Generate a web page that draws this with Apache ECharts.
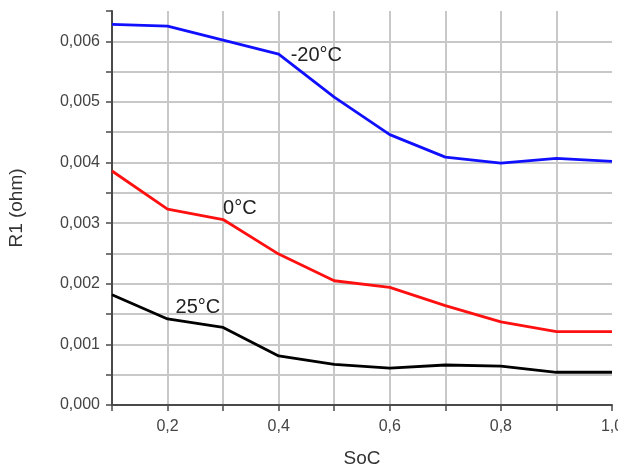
<!DOCTYPE html>
<html>
<head>
<meta charset="utf-8">
<script src="https://cdn.jsdelivr.net/npm/echarts@6/dist/echarts.min.js"></script>
<style>
  html, body { margin: 0; padding: 0; background: #fff; }
  #chart { width: 618px; height: 470px; }
</style>
</head>
<body>
<div id="chart"></div>
<script>
  // SoC (x) and R1 values per temperature
  const soc = [0.1, 0.2, 0.3, 0.4, 0.5, 0.6, 0.7, 0.8, 0.9, 1.0]
  const rMinus20 = [0.00628, 0.00625, 0.00602, 0.00579, 0.00508, 0.00446, 0.00409, 0.00399, 0.00407, 0.00402]
  const rZero = [0.00386, 0.00323, 0.00306, 0.00249, 0.00205, 0.00194, 0.00164, 0.00137, 0.00121, 0.00121]
  const r25 = [0.00182, 0.00142, 0.00128, 0.00081, 0.00067, 0.00061, 0.00066, 0.00064, 0.00054, 0.00054]
  const seriesNames = ['-20°C', '0°C', '25°C']
  const labelIndex = [3, 2, 1]

  const font = 'Liberation Sans, Arial, sans-serif'
  const gridGray = '#c8c8c8'
  const axisGray = '#4a4a4a'

  function pairs(ys) {
    return soc.map((x, i) => [x, ys[i]])
  }

  function makeSeries(idx, ys, color, label) {
    const k = labelIndex[idx]
    return {
      name: seriesNames[idx],
      type: 'line',
      data: pairs(ys),
      showSymbol: false,
      lineStyle: { color: color, width: 2.8 },
      itemStyle: { color: color },
      markPoint: {
        symbol: 'circle',
        symbolSize: 0,
        silent: true,
        data: [{ coord: [soc[k], ys[k]] }],
        label: Object.assign({
          show: true,
          formatter: seriesNames[idx],
          color: '#222',
          fontFamily: font,
          fontSize: 20,
          position: 'right'
        }, label)
      }
    }
  }

  const chart = echarts.init(document.getElementById('chart'))
  chart.setOption({
    animation: false,
    backgroundColor: '#fff',
    grid: { left: 112, right: 6, top: 11, bottom: 65, outerBoundsMode: 'none', containLabel: false },
    xAxis: {
      type: 'value',
      min: 0.1,
      max: 1.0,
      interval: 0.1,
      name: 'SoC',
      nameLocation: 'middle',
      nameGap: 44,
      nameTextStyle: { color: '#333', fontFamily: font, fontSize: 19 },
      axisLine: { show: true, lineStyle: { color: axisGray, width: 2 } },
      axisTick: { show: true, length: 6, lineStyle: { color: axisGray, width: 1.5 } },
      axisLabel: {
        color: '#444',
        fontFamily: font,
        fontSize: 16,
        margin: 14,
        showMaxLabel: true,
        hideOverlap: false,
        formatter: v => Math.round(v * 10) % 2 === 0 ? v.toFixed(1).replace('.', ',') : ''
      },
      splitLine: { show: true, showMinLine: false, showMaxLine: false, lineStyle: { color: gridGray, width: 2 } }
    },
    yAxis: {
      type: 'value',
      min: 0,
      max: 0.0065,
      interval: 0.0005,
      name: 'R1 (ohm)',
      nameLocation: 'middle',
      nameGap: 86,
      nameTextStyle: { color: '#333', fontFamily: font, fontSize: 19 },
      axisLine: { show: true, lineStyle: { color: axisGray, width: 2 } },
      axisTick: { show: true, length: 6, lineStyle: { color: axisGray, width: 1.5 } },
      axisLabel: {
        color: '#444',
        fontFamily: font,
        fontSize: 16,
        margin: 12,
        formatter: v => Math.round(v * 10000) % 10 === 0 ? v.toFixed(3).replace('.', ',') : ''
      },
      splitLine: { show: true, showMinLine: false, showMaxLine: false, lineStyle: { color: gridGray, width: 2 } }
    },
    series: [
      makeSeries(0, rMinus20, '#1010ff', { distance: 12, offset: [0, 1] }),
      makeSeries(1, rZero, '#ff1010', { distance: 0, offset: [0, -11] }),
      makeSeries(2, r25, '#000000', { distance: 0, offset: [8, -11] })
    ]
  })
</script>
</body>
</html>
